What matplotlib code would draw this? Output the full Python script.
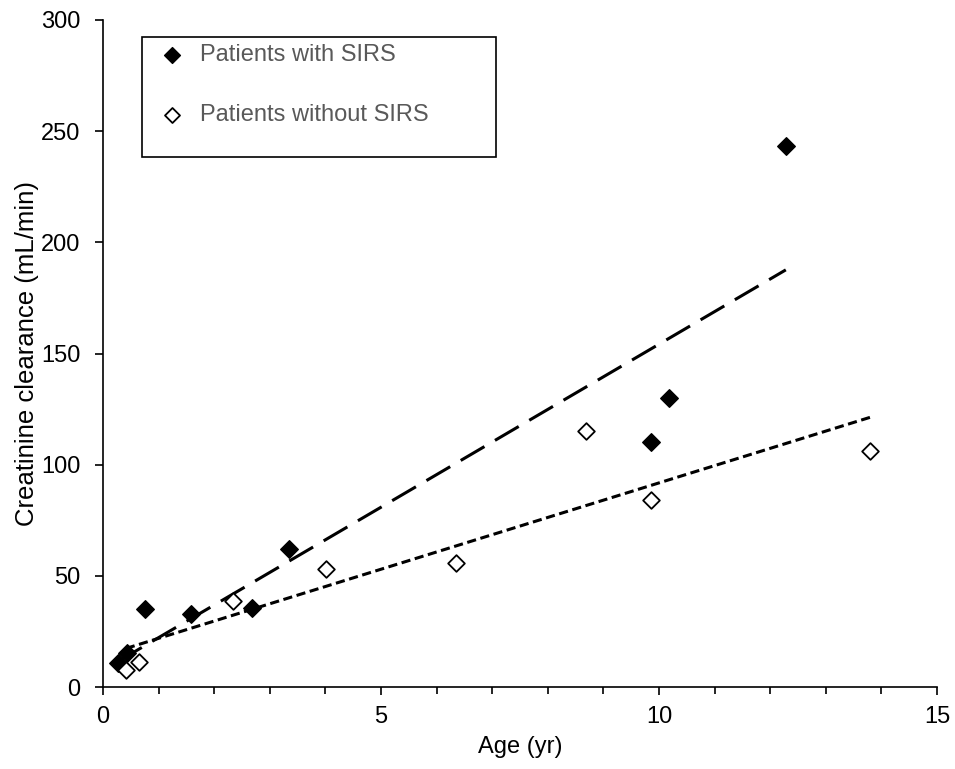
import matplotlib.pyplot as plt
from matplotlib.patches import Rectangle
import numpy as np

plt.rcParams['font.family'] = ['Liberation Sans', 'DejaVu Sans']

# patients with SIRS
age_sirs = np.array([0.27, 0.43, 0.76, 1.58, 2.68, 3.35, 9.86, 10.18, 12.28])
crcl_sirs = np.array([10.8, 15.3, 35.0, 33.0, 35.5, 62.0, 110.0, 130.0, 243.4])
# patients without SIRS
age_nosirs = np.array([0.41, 0.65, 2.34, 4.01, 6.35, 8.69, 9.86, 13.8])
crcl_nosirs = np.array([7.6, 11.2, 38.7, 53.0, 55.8, 115.0, 84.0, 106.0])

fig = plt.figure(figsize=(9.55, 7.69), dpi=100)
ax = fig.add_axes([0.1079, 0.1066, 0.8733, 0.8674])

# linear trend lines (least squares)
p1 = np.polyfit(age_sirs, crcl_sirs, 1)
xs = np.array([age_sirs.min(), age_sirs.max()])
ax.plot(xs, np.polyval(p1, xs), color='black', lw=2.2, dashes=(9, 4), zorder=2)
p2 = np.polyfit(age_nosirs, crcl_nosirs, 1)
xs = np.array([age_nosirs.min(), age_nosirs.max()])
ax.plot(xs, np.polyval(p2, xs), color='black', lw=2.2, dashes=(3, 1.5), zorder=2)

ax.scatter(age_sirs, crcl_sirs, marker='D', s=80, color='black',
           zorder=3, label='Patients with SIRS')
ax.scatter(age_nosirs, crcl_nosirs, marker='D', s=72, facecolor='white',
           edgecolor='black', linewidth=1.3, zorder=3, label='Patients without SIRS')

ax.set_xlim(0, 15)
ax.set_ylim(0, 300)
ax.set_xticks([0, 5, 10, 15])
ax.set_xticks(np.arange(0, 16, 1), minor=True)
ax.set_yticks(np.arange(0, 301, 50))
ax.spines['top'].set_visible(False)
ax.spines['right'].set_visible(False)
ax.tick_params(axis='both', which='major', labelsize=17, length=6, width=1.2, direction='out')
ax.tick_params(axis='x', which='major', pad=7.5)
ax.tick_params(axis='y', which='major', pad=10.5)
ax.tick_params(axis='x', which='minor', length=5, width=1.2, direction='out')
ax.spines['left'].set_linewidth(1.2)
ax.spines['bottom'].set_linewidth(1.2)

ax.set_xlabel('Age (yr)', fontsize=17, labelpad=6)
ax.set_ylabel('Creatinine clearance (mL/min)', fontsize=18.5, labelpad=1)

leg = ax.legend(loc='upper left', bbox_to_anchor=(0.0683, 0.9633), fontsize=17,
                frameon=False, labelspacing=1.61, borderpad=0, handlelength=1.0,
                handletextpad=0.69, borderaxespad=0, markerscale=0.9)
for t in leg.get_texts():
    t.set_color('#595959')
ax.add_patch(Rectangle((0.0468, 0.7945), 0.4245, 0.18, transform=ax.transAxes,
                       fill=False, edgecolor='black', lw=1.2, clip_on=False, zorder=4))

fig.savefig('out.png', dpi=100)
